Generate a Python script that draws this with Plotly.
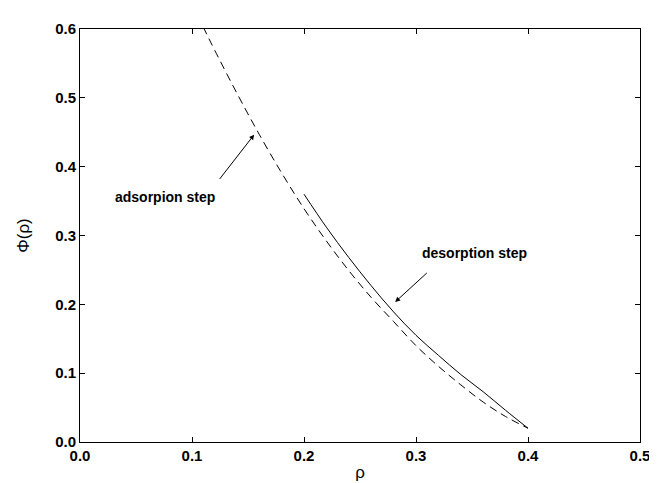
import plotly.graph_objects as go

# Adsorption step (dashed curve)
ads_x = [0.100, 0.110, 0.120, 0.140, 0.160, 0.180, 0.200, 0.220, 0.240, 0.260, 0.280, 0.300, 0.320, 0.340, 0.360, 0.380, 0.400]
ads_y = [0.637, 0.603, 0.570, 0.507, 0.447, 0.391, 0.339, 0.292, 0.249, 0.210, 0.175, 0.140, 0.110, 0.083, 0.058, 0.037, 0.020]

# Desorption step (solid curve)
des_x = [0.200, 0.220, 0.240, 0.260, 0.280, 0.300, 0.320, 0.340, 0.360, 0.380, 0.400]
des_y = [0.360, 0.312, 0.268, 0.227, 0.189, 0.155, 0.126, 0.098, 0.073, 0.046, 0.020]

x_ticks = [0.0, 0.1, 0.2, 0.3, 0.4, 0.5]
y_ticks = [0.0, 0.1, 0.2, 0.3, 0.4, 0.5, 0.6]

fig = go.Figure()
fig.add_trace(go.Scatter(x=ads_x, y=ads_y, mode="lines", line=dict(color="black", width=1, dash="8px,5px", shape="spline"),
                         showlegend=False, hoverinfo="skip"))
fig.add_trace(go.Scatter(x=des_x, y=des_y, mode="lines", line=dict(color="black", width=1, shape="spline"),
                         showlegend=False, hoverinfo="skip"))

font_bold = "Liberation Sans"
fig.add_annotation(x=0.1555, y=0.4465, ax=0.1237, ay=0.380, xref="x", yref="y", axref="x", ayref="y",
                   showarrow=True, arrowhead=2, arrowsize=1, arrowwidth=1, arrowcolor="black", text="")
fig.add_annotation(x=0.0759, y=0.356, xref="x", yref="y", showarrow=False,
                   text="<b>adsorpion step</b>", font=dict(family=font_bold, size=14, color="black"))
fig.add_annotation(x=0.2814, y=0.2034, ax=0.311, ay=0.2475, xref="x", yref="y", axref="x", ayref="y",
                   showarrow=True, arrowhead=2, arrowsize=1, arrowwidth=1, arrowcolor="black", text="")
fig.add_annotation(x=0.352, y=0.274, xref="x", yref="y", showarrow=False,
                   text="<b>desorption step</b>", font=dict(family=font_bold, size=14, color="black"))

axis_common = dict(showgrid=False, zeroline=False, showline=True, linecolor="black", linewidth=1,
                   mirror="ticks", ticks="inside", ticklen=5, tickcolor="black", tickwidth=1,
                   tickfont=dict(family=font_bold, size=15, color="black"))

fig.update_xaxes(range=[0, 0.5], tickvals=x_ticks, ticktext=[f"<b>{v:.1f}</b>" for v in x_ticks],
                 title=dict(text="ρ", font=dict(family="Liberation Sans", size=17, color="black"), standoff=3),
                 **axis_common)
fig.update_yaxes(range=[0, 0.6], tickvals=y_ticks, ticktext=[f"<b>{v:.1f}</b>" for v in y_ticks],
                 title=dict(text="Φ(ρ)", font=dict(family="Liberation Sans", size=17, color="black"), standoff=21),
                 **axis_common)

fig.update_layout(width=657, height=483, margin=dict(l=72, r=25, t=12, b=45),
                  plot_bgcolor="white", paper_bgcolor="white")

fig.write_html("out.html")
